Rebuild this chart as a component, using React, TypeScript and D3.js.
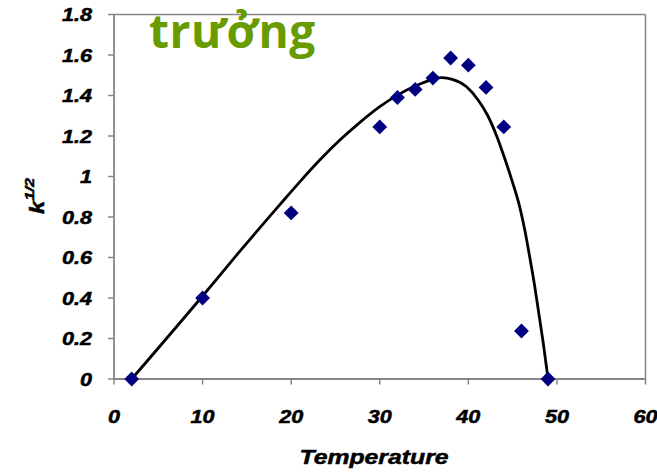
import React from "react";
import * as d3 from "d3";

// Measured points (Temperature, k^1/2)
const obsTemp = [2, 10, 20, 30, 32, 34, 36, 38, 40, 42, 44, 46, 49];
const obsSqrtK = [0, 0.4, 0.82, 1.245, 1.39, 1.43, 1.486, 1.585, 1.55, 1.44, 1.245, 0.237, 0];

// Fitted curve
const fitTemp = [2, 10, 14, 18.7, 21, 23.2, 25.5, 27.7, 30, 32, 34, 36, 37, 38.2, 39.8, 41.1, 42.2, 43.2, 44.1, 45, 45.8, 46.4, 46.9, 47.45, 47.9, 48.45, 49];
const fitSqrtK = [0, 0.41, 0.62, 0.86, 0.975, 1.08, 1.18, 1.265, 1.345, 1.402, 1.447, 1.48, 1.488, 1.48, 1.443, 1.378, 1.3, 1.2, 1.09, 0.97, 0.85, 0.73, 0.61, 0.47, 0.34, 0.18, 0];

const xTicks = [0, 10, 20, 30, 40, 50, 60];
const xTickLabels = ["0", "10", "20", "30", "40", "50", "60"];
const yTicks = [0, 0.2, 0.4, 0.6, 0.8, 1, 1.2, 1.4, 1.6, 1.8];
const yTickLabels = ["0", "0.2", "0.4", "0.6", "0.8", "1", "1.2", "1.4", "1.6", "1.8"];

const titleText = "trưởng";
const xTitle = "Temperature";

export default function App() {
  const W = 657, H = 476;
  const x = d3.scaleLinear().domain([0, 60]).range([114, 645.5]);
  const y = d3.scaleLinear().domain([0, 1.8]).range([379, 14.5]);
  const axisColor = "#868686";
  const font = "'Liberation Sans', Arial, sans-serif";

  const fitPts: [number, number][] = fitTemp.map((t, i) => [t, fitSqrtK[i]]);
  const line = d3
    .line<[number, number]>()
    .x((d) => x(d[0]))
    .y((d) => y(d[1]))
    .curve(d3.curveMonotoneX);

  const diamond = d3.symbol().type(d3.symbolSquare).size(110)();

  const [x0, x1] = x.range();
  const [y0, y1] = y.range();

  return (
    <svg width={W} height={H} style={{ position: "absolute", left: 0, top: 0, background: "#fff" }}>
      <rect x={0} y={0} width={W} height={H} fill="#fff" />
      {/* frame */}
      <line x1={x0} x2={x1} y1={y1} y2={y1} stroke={axisColor} strokeWidth={1.5} />
      <line x1={x1} x2={x1} y1={y1} y2={y0} stroke={axisColor} strokeWidth={1.5} />
      {/* axes */}
      <line x1={x0} x2={x0} y1={y1} y2={y0} stroke={axisColor} strokeWidth={1.8} />
      <line x1={x0} x2={x1} y1={y0} y2={y0} stroke={axisColor} strokeWidth={1.8} />
      {yTicks.map((v, i) => (
        <g key={"yt" + i}>
          <line x1={x0 - 6} x2={x0} y1={y(v)} y2={y(v)} stroke={axisColor} strokeWidth={1.5} />
          <g transform={`translate(${92},${y(v) + 6.5}) scale(1.2,1)`}>
            <text textAnchor="end" fontFamily={font} fontWeight="bold" fontStyle="italic" fontSize={18} fill="#000" stroke="#000" strokeWidth={0.5}>
              {yTickLabels[i]}
            </text>
          </g>
        </g>
      ))}
      {xTicks.map((v, i) => (
        <g key={"xt" + i}>
          <line x1={x(v)} x2={x(v)} y1={y0} y2={y0 + 5.5} stroke={axisColor} strokeWidth={1.5} />
          <g transform={`translate(${x(v)},${423}) scale(1.2,1)`}>
            <text textAnchor="middle" fontFamily={font} fontWeight="bold" fontStyle="italic" fontSize={18} fill="#000" stroke="#000" strokeWidth={0.5}>
              {xTickLabels[i]}
            </text>
          </g>
        </g>
      ))}
      {/* axis titles */}
      <g transform={`translate(${374},${463.5}) scale(1.18,1)`}>
        <text textAnchor="middle" fontFamily={font} fontWeight="bold" fontStyle="italic" fontSize={21} fill="#000" stroke="#000" strokeWidth={0.5}>
          {xTitle}
        </text>
      </g>
      <g transform={`translate(${43.5},${196}) rotate(-90) scale(1.2,1)`}>
        <text textAnchor="middle" fontFamily={font} fontWeight="bold" fontStyle="italic" fontSize={20} fill="#000" stroke="#000" strokeWidth={0.5}>
          k
          <tspan fontSize={13.5} dy={-10}>1/2</tspan>
        </text>
      </g>
      {/* fitted curve */}
      <path d={line(fitPts) || ""} fill="none" stroke="#000" strokeWidth={2.8} strokeLinejoin="round" />
      {/* observed points */}
      {obsTemp.map((t, i) => (
        <path
          key={"p" + i}
          d={diamond || ""}
          transform={`translate(${x(t)},${y(obsSqrtK[i])}) rotate(45)`}
          fill="#000080"
        />
      ))}
      {/* title */}
      <text x={149} y={48} fontFamily="'Open Sans', sans-serif" fontWeight="bold" fontSize={46} letterSpacing={0.6} fill="#679b00">
        {titleText}
      </text>
    </svg>
  );
}
